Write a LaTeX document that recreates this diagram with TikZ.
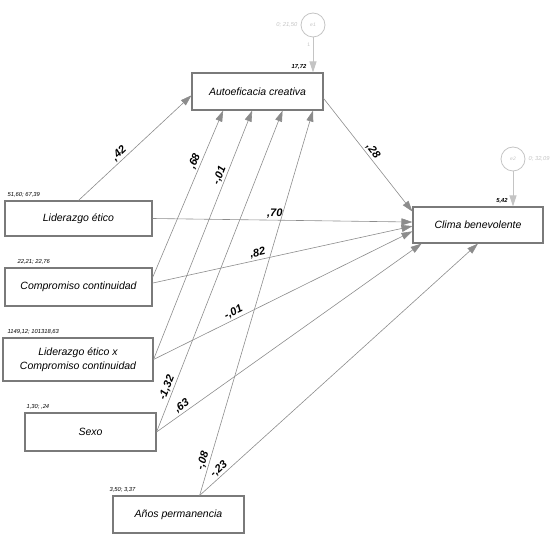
\documentclass[tikz,border=0pt]{standalone}
\usepackage{fontspec}
\setmainfont{Liberation Sans}
\usepackage{tikz}
\usetikzlibrary{arrows.meta, calc}

\definecolor{linegray}{HTML}{8C8C8C}
\definecolor{boxgray}{HTML}{7A7A7A}
\definecolor{errgray}{HTML}{C4C4C4}

\begin{document}
\begin{tikzpicture}[
  x=1pt, y=-1pt,
  every node/.style={font=\fontsize{10.5}{14.5}\selectfont\itshape},
  var/.style={rectangle, draw=boxgray, line width=1.1pt, inner sep=0pt, align=center},
  err/.style={circle, draw=errgray, line width=0.8pt, minimum size=24pt, inner sep=0pt,
              font=\fontsize{5}{6}\selectfont\itshape, text=errgray},
  arrow/.style={draw=linegray, line width=0.6pt, -{Triangle[length=11pt, width=7pt]}},
  errarrow/.style={draw=errgray, line width=0.8pt, -{Triangle[length=11pt, width=7pt]}},
  coef/.style={font=\fontsize{11}{13}\selectfont\bfseries\itshape, sloped, above, inner sep=1.5pt},
  est/.style={font=\fontsize{5.8}{7}\selectfont\itshape, anchor=south west, inner sep=0pt},
]
\useasboundingbox (0,0) rectangle (557,553);

% Variables
\node[var, minimum width=131pt, minimum height=37pt] (autoef) at (257.5,91.5) {Autoeficacia creativa};
\node[var, minimum width=130pt, minimum height=36pt] (clima) at (478,225) {Clima benevolente};
\node[var, minimum width=147pt, minimum height=35pt] (lider) at (78.5,218.5) {Liderazgo ético};
\node[var, minimum width=147pt, minimum height=38pt] (compro) at (78.5,287) {Compromiso continuidad};
\node[var, minimum width=150pt, minimum height=43pt] (inter) at (78,359.5) {Liderazgo ético x\\Compromiso continuidad};
\node[var, minimum width=131pt, minimum height=38pt] (sexo) at (90.5,432) {Sexo};
\node[var, minimum width=131pt, minimum height=37pt] (anios) at (178.5,514.5) {Años permanencia};

% Errors
\node[err] (e1) at (313,25) {e1};
\node[err] (e2) at (513,159) {e2};
\node[est, anchor=east, text=errgray] at ([xshift=-3pt]e1.west) {0; 21,50};
\node[est, anchor=west, text=errgray] at ([xshift=3pt]e2.east) {0; 32,09};
\draw[errarrow] (e1) -- (e1 |- autoef.north) node[pos=0.2, left=-1pt, font=\fontsize{5}{6}\selectfont, text=errgray] {1};
\draw[errarrow] (e2) -- (e2 |- clima.north);

% Estimates
\node[est, anchor=center, font=\fontsize{5.8}{7}\selectfont\bfseries\itshape] at (299,67) {17,72};
\node[est, anchor=center, font=\fontsize{5.8}{7}\selectfont\bfseries\itshape] at (502,201) {5,42};
\node[est] at ([xshift=3pt, yshift=3pt]lider.north west) {51,60; 67,39};
\node[est] at ([xshift=13pt, yshift=3pt]compro.north west) {22,21; 22,76};
\node[est] at ([xshift=5pt, yshift=3pt]inter.north west) {1149,12; 101318,63};
\node[est] at ([xshift=2pt, yshift=3pt]sexo.north west) {1,30; ,24};
\node[est] at ([xshift=-3pt, yshift=3pt]anios.north west) {3,50; 3,37};

% Paths to Autoeficacia creativa
\draw[arrow] (lider.north) -- ($(autoef.north west)!0.6!(autoef.south west)$) node[coef, pos=0.4] {,42};
\draw[arrow] ($(compro.north east)!0.26!(compro.south east)$) -- ($(autoef.south west)!0.24!(autoef.south east)$) node[coef, pos=0.68] {,68};
\draw[arrow] (inter.east) -- ($(autoef.south west)!0.46!(autoef.south east)$) node[coef, pos=0.73] {-,01};
\draw[arrow] (sexo.east) -- ($(autoef.south west)!0.69!(autoef.south east)$) node[coef, pos=0.13] {-1,32};
\draw[arrow] ($(anios.north west)!0.66!(anios.north east)$) -- ($(autoef.south west)!0.92!(autoef.south east)$) node[coef, pos=0.085] {-,08};

% Paths to Clima benevolente
\draw[arrow] ($(autoef.north east)!0.68!(autoef.south east)$) -- ($(clima.north west)!0.14!(clima.south west)$) node[coef, pos=0.5] {,28};
\draw[arrow] (lider.east) -- ($(clima.north west)!0.42!(clima.south west)$) node[coef, pos=0.47] {,70};
\draw[arrow] ($(compro.north east)!0.4!(compro.south east)$) -- ($(clima.north west)!0.53!(clima.south west)$) node[coef, pos=0.41] {,82};
\draw[arrow] (inter.east) -- ($(clima.north west)!0.67!(clima.south west)$) node[coef, pos=0.32] {-,01};
\draw[arrow] (sexo.east) -- ($(clima.south west)!0.07!(clima.south east)$) node[coef, pos=0.11] {,63};
\draw[arrow] ($(anios.north west)!0.66!(anios.north east)$) -- (clima.south) node[coef, pos=0.085] {-,23};

\end{tikzpicture}
\end{document}
